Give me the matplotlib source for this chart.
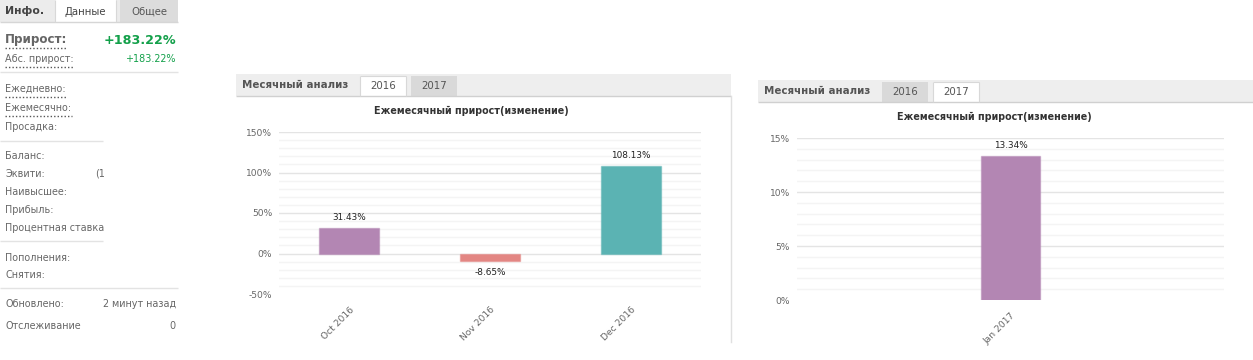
import matplotlib
matplotlib.use("Agg")
import matplotlib.pyplot as plt
from matplotlib.patches import Rectangle
from matplotlib.ticker import FuncFormatter

plt.rcParams['font.family'] = ['DejaVu Sans']

# chart data
months_2016 = ['Oct 2016', 'Nov 2016', 'Dec 2016']
gain_2016 = [31.43, -8.65, 108.13]
colors_2016 = ['#b386b3', '#e38683', '#5bb3b3']
yticks_2016 = [-50, 0, 50, 100, 150]

months_2017 = ['Jan 2017']
gain_2017 = [13.34]
colors_2017 = ['#b386b3']
yticks_2017 = [0, 5, 10, 15]

# info panel texts
info_rows_top = ['Ежедневно:', 'Ежемесячно:', 'Просадка:']
info_rows_mid = ['Баланс:', 'Эквити:', 'Наивысшее:', 'Прибыль:', 'Процентная ставка']
info_rows_dep = ['Пополнения:', 'Снятия:']

W, H = 1253, 360
fig = plt.figure(figsize=(W / 100, H / 100), dpi=100)
fig.patch.set_facecolor('white')

bg = fig.add_axes([0, 0, 1, 1])
bg.set_xlim(0, W)
bg.set_ylim(H, 0)
bg.axis('off')
bg.set_zorder(0)

small = 6.9


def rect(x0, y0, x1, y1, fc, ec='none', lw=0.8):
    bg.add_patch(Rectangle((x0, y0), x1 - x0, y1 - y0, facecolor=fc, edgecolor=ec, lw=lw))


def hline(x0, x1, y, c='#e3e3e3', ls='-', lw=1):
    bg.plot([x0, x1], [y, y], color=c, lw=lw, ls=ls, solid_capstyle='butt')


def vline(x, y0, y1, c='#d8d8d8'):
    bg.plot([x, x], [y0, y1], color=c, lw=0.8, solid_capstyle='butt')


# ---- left info panel ----
rect(0, 0, 178, 22, '#ececec')
hline(0, 178, 22, '#d6d6d6')
bg.text(5, 11, 'Инфо.', fontsize=7.8, fontweight='bold', color='#444', va='center')
rect(55, 0, 116, 23, 'white')
vline(55, 0, 22)
vline(116, 0, 22)
bg.text(85.5, 12, 'Данные', fontsize=7.3, color='#444', va='center', ha='center')
rect(120, 0, 178, 22, '#dcdcdc')
bg.text(149, 12, 'Общее', fontsize=7.3, color='#555', va='center', ha='center')

green = '#13a04a'
bg.text(5, 40, 'Прирост:', fontsize=8.6, fontweight='bold', color='#666', va='center')
hline(5, 67, 48, '#555', ls=(0, (1, 1.5)))
bg.text(176, 40, '+183.22%', fontsize=9.2, fontweight='bold', color=green, va='center', ha='right')
bg.text(5, 59, 'Абс. прирост:', fontsize=small, color='#666', va='center')
hline(5, 74, 67, '#555', ls=(0, (1, 1.5)))
bg.text(176, 59, '+183.22%', fontsize=small, color=green, va='center', ha='right')
hline(0, 178, 72)

for i, lab in enumerate(info_rows_top):
    y = 89 + i * 19
    bg.text(5, y, lab, fontsize=small, color='#666', va='center')
hline(5, 66, 97, '#555', ls=(0, (1, 1.5)))
hline(5, 72, 116, '#555', ls=(0, (1, 1.5)))
hline(0, 103, 141)

for i, lab in enumerate(info_rows_mid):
    y = 156 + i * 18
    bg.text(5, y, lab, fontsize=small, color='#666', va='center')
bg.text(95, 174, '(1', fontsize=small, color='#666', va='center')
hline(0, 103, 241)

for i, lab in enumerate(info_rows_dep):
    y = 258 + i * 17.5
    bg.text(5, y, lab, fontsize=small, color='#666', va='center')
hline(0, 178, 288)

bg.text(5, 304, 'Обновлено:', fontsize=small, color='#666', va='center')
bg.text(176, 304, '2 минут назад', fontsize=small, color='#666', va='center', ha='right')
bg.text(5, 326, 'Отслеживание', fontsize=small, color='#666', va='center')
bg.text(176, 326, '0', fontsize=small, color='#666', va='center', ha='right')


# ---- chart panel headers ----
def panel_header(x0, x1, y0, y1, active):
    rect(x0, y0, x1, y1, '#eeeeee')
    hline(x0, x1, y1, '#d0d0d0')
    bg.text(x0 + 6, (y0 + y1) / 2, 'Месячный анализ', fontsize=7.4, fontweight='bold',
            color='#555', va='center')
    tabs = [(x0 + 124, x0 + 170, '2016'), (x0 + 175, x0 + 221, '2017')]
    for tx0, tx1, lab in tabs:
        if lab == active:
            rect(tx0, y0 + 2, tx1, y1 + 1, 'white')
            vline(tx0, y0 + 2, y1)
            vline(tx1, y0 + 2, y1)
            hline(tx0, tx1, y0 + 2, '#d8d8d8', lw=0.8)
        else:
            rect(tx0, y0 + 2, tx1, y1, '#d9d9d9')
        bg.text((tx0 + tx1) / 2, (y0 + y1) / 2 + 1, lab, fontsize=7.4, color='#555',
                va='center', ha='center')


panel_header(236, 731, 74, 96, '2016')
bg.plot([731, 731], [96, 342], color='#e0e0e0', lw=1)
panel_header(758, 1253, 80, 102, '2017')

bg.text(471, 111, 'Ежемесячный прирост(изменение)', fontsize=6.9, fontweight='bold',
        color='#333', va='center', ha='center')
bg.text(994, 117, 'Ежемесячный прирост(изменение)', fontsize=6.9, fontweight='bold',
        color='#333', va='center', ha='center')


# ---- bar charts ----
def bar_chart(px0, px1, py_top, py_bot, months, values, colors, yticks, minor, bw):
    ax = fig.add_axes([px0 / W, 1 - py_bot / H, (px1 - px0) / W, (py_bot - py_top) / H])
    ax.set_zorder(1)
    ax.patch.set_alpha(0)
    lo, hi = yticks[0], yticks[-1]
    ax.set_ylim(lo, hi)
    ax.set_xlim(-0.5, len(months) - 0.5)
    v = lo + minor
    while v < hi + 1e-9:
        is_major = any(abs(v - t) < 1e-9 for t in yticks)
        ax.axhline(v, color='#e4e4e4' if is_major else '#f4f4f4', lw=1, zorder=0)
        v += minor
    x = list(range(len(months)))
    ax.bar(x, values, width=bw, color=colors, edgecolor=[c + '80' for c in colors],
           lw=1, zorder=2)
    span = hi - lo
    for xi, val in zip(x, values):
        if val >= 0:
            ax.text(xi, val + span * 0.065, f'{val:.2f}%', ha='center', va='center',
                    fontsize=6.4, color='#222')
        else:
            ax.text(xi, val - span * 0.075, f'{val:.2f}%', ha='center', va='center',
                    fontsize=6.4, color='#222')
    for s in ax.spines.values():
        s.set_visible(False)
    ax.set_yticks(yticks)
    ax.yaxis.set_major_formatter(FuncFormatter(lambda t, p: f'{t:.0f}%'))
    ax.set_xticks(x)
    ax.set_xticklabels(months, rotation=45, ha='right', rotation_mode='anchor')
    ax.tick_params(axis='both', length=0, labelsize=6.6, labelcolor='#666')
    ax.tick_params(axis='y', pad=5)
    ax.tick_params(axis='x', pad=8)
    return ax


bar_chart(279, 701, 132, 294, months_2016, gain_2016, colors_2016, yticks_2016, 10, 0.427)
bar_chart(797, 1224, 138, 300, months_2017, gain_2017, colors_2017, yticks_2017, 1, 0.14)

fig.savefig('out.png', dpi=100, facecolor='white')
